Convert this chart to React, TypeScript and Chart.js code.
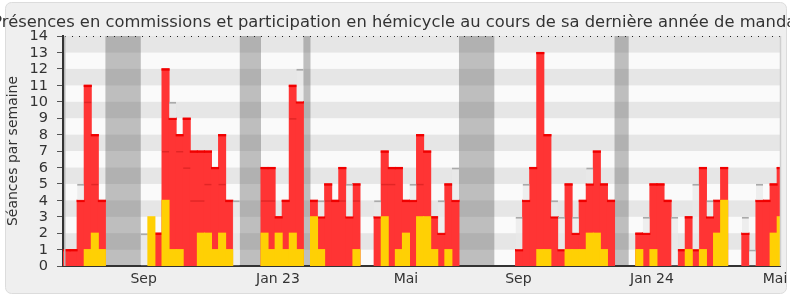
import React, { useEffect, useRef } from 'react';
import { Chart, registerables } from 'chart.js';

Chart.register(...registerables);

const TITLE = 'Présences en commissions et participation en hémicycle au cours de sa dernière année de mandat';
const Y_TITLE = 'Séances par semaine';

// one value per week (index 0 = first week shown)
const presences = [
  1, 1, 4, 11, 8, 4, 0, 0, 0, 0,
  0, 0, 0, 2, 12, 9, 8, 9, 7, 7,
  7, 6, 8, 4, 0, 0, 0, 0, 6, 6,
  3, 4, 11, 10, 0, 4, 3, 5, 4, 6,
  3, 5, 0, 0, 3, 7, 6, 6, 4, 4,
  8, 7, 3, 2, 5, 4, 0, 0, 0, 0,
  0, 0, 0, 0, 1, 4, 6, 13, 8, 3,
  1, 5, 2, 4, 5, 7, 5, 4, 0, 0,
  0, 2, 2, 5, 5, 4, 0, 1, 3, 1,
  6, 3, 4, 6, 0, 0, 2, 0, 4, 4,
  5, 6,
];

const participations = [
  0, 0, 0, 1, 2, 1, 0, 0, 0, 0,
  0, 0, 3, 0, 4, 1, 1, 0, 0, 2,
  2, 1, 2, 1, 0, 0, 0, 0, 2, 1,
  2, 1, 2, 1, 0, 3, 1, 0, 0, 0,
  0, 1, 0, 0, 0, 3, 0, 1, 2, 0,
  3, 3, 1, 0, 1, 0, 0, 0, 0, 0,
  0, 0, 0, 0, 0, 0, 0, 1, 1, 0,
  0, 1, 1, 1, 2, 2, 1, 0, 0, 0,
  0, 1, 0, 1, 0, 0, 0, 0, 1, 0,
  1, 0, 2, 4, 0, 0, 0, 0, 0, 0,
  2, 3,
];

const mediane = [
  0, 0, 5, 10, 5, 0, 0, 0, 0, 0,
  0, 2, 0, 0, 7, 10, 7, 6, 4, 4,
  5, 0, 5, 0, 4, 0, 0, 0, 4, 4,
  0, 0, 9, 12, 0, 0, 4, 4, 0, 4,
  5, 4, 0, 0, 4, 5, 5, 0, 0, 5,
  5, 0, 0, 4, 0, 6, 0, 0, 0, 0,
  0, 0, 0, 0, 3, 5, 0, 0, 0, 4,
  3, 0, 3, 0, 6, 0, 0, 0, 0, 0,
  0, 0, 3, 0, 0, 0, 3, 0, 0, 5,
  0, 4, 0, 0, 0, 0, 3, 1, 5, 0,
  0, 0,
];

// parliamentary recess periods, in weeks [start, end)
const vacStart = [6, 25, 34, 56, 78];
const vacEnd = [11, 28, 35, 61, 80];

const monthLabels = ['Sep', 'Jan 23', 'Mai', 'Sep', 'Jan 24', 'Mai'];
const monthPositions = [11.4, 30.4, 48.5, 64.4, 83.3, 100.7];

const yTickValues = [0, 1, 2, 3, 4, 5, 6, 7, 8, 9, 10, 11, 12, 13, 14];

const WEEKS_SHOWN = 101.4;
const Y_MAX = 14;

const FONT = '"DejaVu Sans", Verdana, sans-serif';

const decorPlugin = {
  id: 'decor',
  beforeDraw(chart: any) {
    const { ctx, chartArea, scales } = chart;
    const x = scales.x;
    const y = scales.y;
    ctx.save();
    ctx.fillStyle = '#ffffff';
    ctx.fillRect(0, 0, chart.width, chart.height);
    // frame
    ctx.beginPath();
    (ctx as any).roundRect(5.5, 2.5, 781, 291, 6);
    ctx.fillStyle = '#efefef';
    ctx.fill();
    ctx.strokeStyle = '#dcdcdc';
    ctx.lineWidth = 1;
    ctx.stroke();
    // stripes
    for (let k = 0; k < Y_MAX; k++) {
      const yTop = y.getPixelForValue(k + 1);
      const yBot = y.getPixelForValue(k);
      ctx.fillStyle = k % 2 === 1 ? '#e6e6e6' : '#fafafa';
      ctx.fillRect(chartArea.left, yTop, chartArea.right - chartArea.left, yBot - yTop);
    }
    // recess bands
    ctx.fillStyle = 'rgba(76,76,76,0.35)';
    for (let i = 0; i < vacStart.length; i++) {
      const a = x.getPixelForValue(vacStart[i]);
      const b = x.getPixelForValue(vacEnd[i]);
      ctx.fillRect(a, chartArea.top, b - a, chartArea.bottom - chartArea.top);
    }
    ctx.restore();
  },
  afterDatasetsDraw(chart: any) {
    const { ctx, chartArea } = chart;
    ctx.save();
    // top dotted line
    ctx.strokeStyle = '#222';
    ctx.lineWidth = 1;
    ctx.setLineDash([1, 6]);
    ctx.beginPath();
    ctx.moveTo(chartArea.left + 2, chartArea.top + 0.5);
    ctx.lineTo(chartArea.right, chartArea.top + 0.5);
    ctx.stroke();
    ctx.setLineDash([]);
    // right border
    ctx.strokeStyle = '#cfcfcf';
    ctx.lineWidth = 1.5;
    ctx.beginPath();
    ctx.moveTo(chartArea.right + 0.5, chartArea.top);
    ctx.lineTo(chartArea.right + 0.5, chartArea.bottom);
    ctx.stroke();
    // light line right of the y axis
    ctx.strokeStyle = '#b8b8b8';
    ctx.lineWidth = 1.5;
    ctx.beginPath();
    ctx.moveTo(chartArea.left + 1.75, chartArea.top);
    ctx.lineTo(chartArea.left + 1.75, chartArea.bottom);
    ctx.stroke();
    ctx.restore();
  },
  afterDraw(chart: any) {
    const { ctx, scales } = chart;
    const x = scales.x;
    const y = scales.y;
    ctx.save();
    ctx.fillStyle = '#333';
    ctx.font = '16.33px ' + FONT;
    ctx.textAlign = 'center';
    ctx.textBaseline = 'alphabetic';
    ctx.fillText(TITLE, 397.5, 26.5);
    ctx.font = '14px ' + FONT;
    for (let i = 0; i < monthLabels.length; i++) {
      ctx.fillText(monthLabels[i], x.getPixelForValue(monthPositions[i]), 283);
    }
    ctx.textAlign = 'right';
    ctx.textBaseline = 'middle';
    ctx.font = '14.5px ' + FONT;
    for (const v of yTickValues) {
      ctx.fillText(String(v), 48, y.getPixelForValue(v) + 0.5);
    }
    ctx.restore();
  },
};

const toPoints = (arr: number[]) => arr.map((v, i) => ({ x: i + 0.5, y: v > 0 ? v : null }));

// thin darker cap at the top of each red bar
const redCapPoints = presences.map((v, i) => ({ x: i + 0.5, y: v > 0 ? [v - 0.08, v] : null }));

// median bars: above the red bar a light bar capped by a grey line,
// inside the red bar only a faint dark line at the median level
const medianAbove = (i: number) => mediane[i] > presences[i];
const medianPoints = mediane.map((m, i) => {
  if (m <= 0 || m === presences[i]) return { x: i + 0.5, y: null };
  if (m > presences[i]) return { x: i + 0.5, y: [presences[i], m] };
  return { x: i + 0.5, y: [m - 0.09, m] };
});

export default function App() {
  const ref = useRef<HTMLCanvasElement | null>(null);
  useEffect(() => {
    document.body.style.margin = '0';
    const canvas = ref.current;
    if (!canvas) return;
    const common = { grouped: false, barPercentage: 1, categoryPercentage: 1 };
    const chart = new Chart(canvas, {
      type: 'bar',
      data: {
        datasets: [
          {
            label: 'Participation en hémicycle',
            data: toPoints(participations),
            backgroundColor: '#ffd004',
            borderWidth: 0,
            inflateAmount: 0.5,
            ...common,
          },
          {
            label: 'Médiane',
            data: medianPoints,
            backgroundColor: (c: any) => (medianAbove(c.dataIndex) ? 'rgba(232,232,232,0.7)' : 'rgba(150,0,0,0.28)'),
            borderColor: '#aaaaaa',
            borderWidth: (c: any) =>
              medianAbove(c.dataIndex) ? { top: 2, left: 0, right: 0, bottom: 0 } : 0,
            borderSkipped: 'start',
            inflateAmount: 0,
            ...common,
          },
          {
            label: 'Bord',
            data: redCapPoints,
            backgroundColor: '#f00000',
            borderWidth: 0,
            inflateAmount: 0.5,
            ...common,
          },
          {
            label: 'Présences en commissions',
            data: toPoints(presences),
            backgroundColor: '#ff3434',
            borderWidth: 0,
            inflateAmount: 0.5,
            ...common,
          },
        ] as any,
      },
      options: {
        animation: false,
        responsive: false,
        devicePixelRatio: 1,
        layout: { padding: { top: 36, right: 10, bottom: 0, left: 0 } },
        plugins: {
          legend: { display: false },
          tooltip: { enabled: false },
          title: { display: false },
        },
        scales: {
          x: {
            type: 'linear',
            offset: false,
            min: 0,
            max: WEEKS_SHOWN,
            grid: { display: false, offset: false },
            border: { display: true, color: '#333', width: 2 },
            ticks: { display: false },
            afterBuildTicks: (scale: any) => {
              scale.ticks = monthPositions.map((v) => ({ value: v }));
            },
            afterFit: (scale: any) => {
              scale.height = 34;
            },
          },
          y: {
            type: 'linear',
            min: 0,
            max: Y_MAX,
            grid: { drawOnChartArea: false, drawTicks: true, tickLength: 6, color: '#555' },
            border: { display: true, color: '#333', width: 2 },
            ticks: {
              stepSize: 1,
              autoSkip: false,
              display: false,
            },
            title: {
              display: true,
              text: Y_TITLE,
              color: '#333',
              font: { family: FONT, size: 14 },
              padding: { top: 5, bottom: 0 },
            },
            afterFit: (scale: any) => {
              scale.width = 63;
            },
          },
        },
      } as any,
      plugins: [decorPlugin],
    });
    return () => chart.destroy();
  }, []);
  return (
    <div style={{ width: 790, height: 300 }}>
      <canvas ref={ref} width={790} height={300} style={{ display: 'block', width: 790, height: 300 }} />
    </div>
  );
}
